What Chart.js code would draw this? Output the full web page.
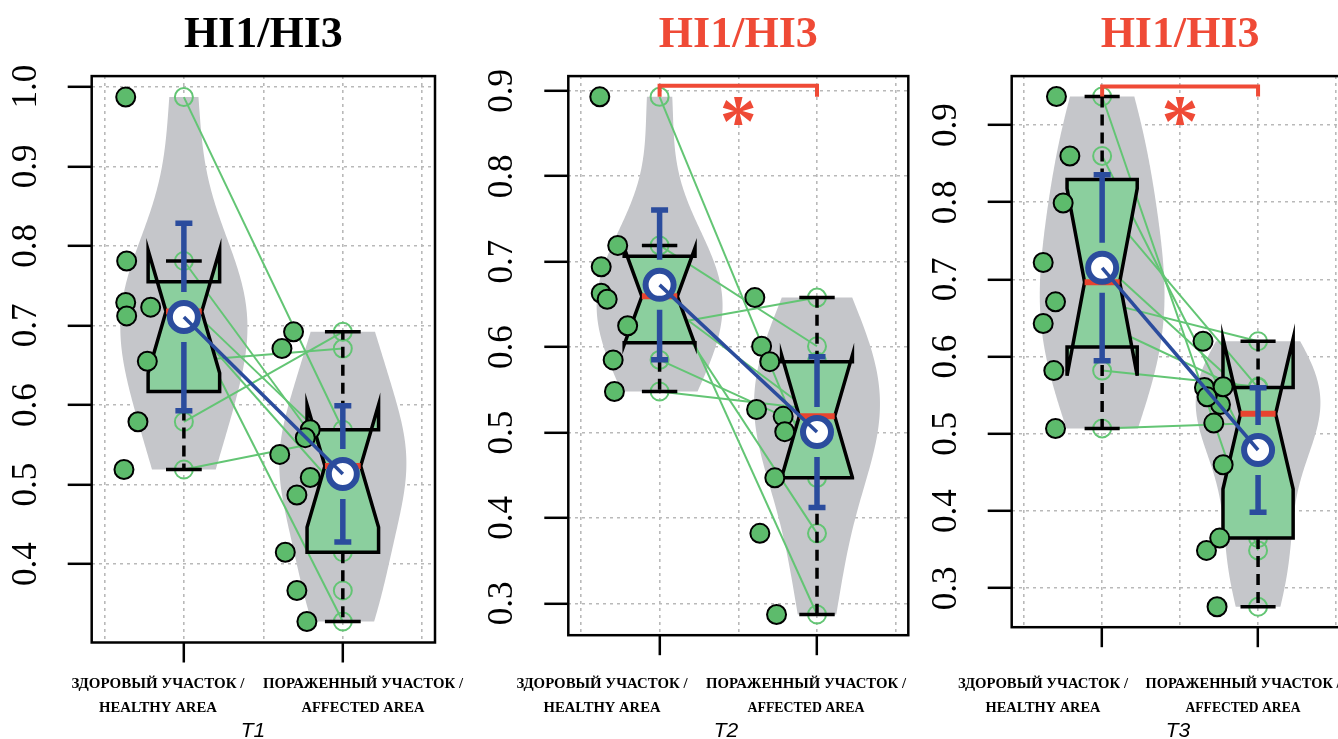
<!DOCTYPE html>
<html>
<head>
<meta charset="utf-8">
<title>HI1/HI3</title>
<script src="https://cdn.jsdelivr.net/npm/chart.js@4.4.1/dist/chart.umd.min.js"></script>
<style>
  html, body { margin: 0; padding: 0; background: #ffffff; width: 1338px; height: 739px; overflow: hidden; }
  .panel { position: absolute; top: 0; height: 739px; }
  .panel canvas { display: block; }
</style>
</head>
<body>
<div class="panel" style="left:0px;width:480px"><canvas id="c1" width="480" height="739"></canvas></div>
<div class="panel" style="left:460px;width:480px"><canvas id="c2" width="480" height="739"></canvas></div>
<div class="panel" style="left:920px;width:440px"><canvas id="c3" width="440" height="739"></canvas></div>
<script>
// ---------------- data: HI1/HI3 index, healthy vs affected skin ----------------
const indexName = 'HI1/HI3';
const sessions = ['T1', 'T2', 'T3'];
const categoryRu = ['ЗДОРОВЫЙ УЧАСТОК /', 'ПОРАЖЕННЫЙ УЧАСТОК /'];
const categoryEn = ['HEALTHY AREA', 'AFFECTED AREA'];

const yTicksT1 = [0.4, 0.5, 0.6, 0.7, 0.8, 0.9, 1.0];
const yTicksT2 = [0.3, 0.4, 0.5, 0.6, 0.7, 0.8, 0.9];
const yTicksT3 = [0.3, 0.4, 0.5, 0.6, 0.7, 0.8, 0.9];

// values are listed so that entry i of "healthy" is paired with entry i of "affected"
const healthyT1  = [0.987, 0.781, 0.729, 0.723, 0.712, 0.655, 0.579, 0.519];
const affectedT1 = [0.569, 0.509, 0.538, 0.328, 0.487, 0.671, 0.692, 0.559, 0.415, 0.367];
const healthyT2  = [0.893, 0.719, 0.694, 0.663, 0.656, 0.625, 0.585, 0.548];
const affectedT2 = [0.447, 0.601, 0.287, 0.382, 0.519, 0.658, 0.501, 0.527, 0.583];
const healthyT3  = [0.937, 0.860, 0.799, 0.722, 0.671, 0.643, 0.582, 0.507];
const affectedT3 = [0.349, 0.460, 0.560, 0.538, 0.620, 0.548, 0.561, 0.514, 0.365, 0.276];

// horizontal strip-chart jitter of the filled points (category units)
const healthyJitterT1  = [-0.366, -0.360, -0.366, -0.209, -0.360, -0.230, -0.289, -0.377];
const affectedJitterT1 = [-0.205, -0.205, -0.397, -0.226, -0.289, -0.383, -0.310, -0.236, -0.362, -0.289];
const healthyJitterT2  = [-0.380, -0.266, -0.371, -0.371, -0.333, -0.203, -0.295, -0.287];
const affectedJitterT2 = [-0.268, -0.352, -0.257, -0.363, -0.215, -0.395, -0.205, -0.384, -0.300];
const healthyJitterT3  = [-0.293, -0.207, -0.250, -0.378, -0.299, -0.378, -0.310, -0.299];
const affectedJitterT3 = [-0.331, -0.224, -0.344, -0.241, -0.353, -0.327, -0.224, -0.284, -0.246, -0.263];

// significance bracket between the two areas (null = not significant)
const significanceT1 = null;
const significanceT2 = '*';
const significanceT3 = '*';

// ---------------- styling ----------------
const COL = {
  violin: '#c5c6ca',
  boxFill: '#8bcf9e',
  point: '#5dbb6c',
  pairLine: '#63c574',
  blue: '#2b4c9d',
  median: '#e8442f',
  red: '#ef4a36',
  grid: '#b9b9b9'
};
const BOX_HALF = 0.225;      // half box width, category units
const VIOLIN_HALF = 0.4;     // max half width of a violin
const T975 = { 5: 2.570582, 6: 2.446912, 7: 2.364624, 8: 2.306004, 9: 2.262157, 10: 2.228139 };

// ---------------- statistics ----------------
function sorted(v) { return [...v].sort((a, b) => a - b); }
function fivenum(v) {
  const x = sorted(v), n = x.length;
  const n4 = Math.floor((n + 3) / 2) / 2;
  const d = [1, n4, (n + 1) / 2, n + 1 - n4, n];
  return d.map(di => 0.5 * (x[Math.floor(di) - 1] + x[Math.ceil(di) - 1]));
}
function boxStats(v) {
  const [, q1, med, q3] = fivenum(v);
  const iqr = q3 - q1;
  const lo = Math.min(...v.filter(a => a >= q1 - 1.5 * iqr));
  const hi = Math.max(...v.filter(a => a <= q3 + 1.5 * iqr));
  const nd = 1.58 * iqr / Math.sqrt(v.length);
  return { q1, med, q3, lo, hi, nLo: med - nd, nHi: med + nd };
}
function meanSd(v) {
  const n = v.length, m = v.reduce((s, a) => s + a, 0) / n;
  const sd = Math.sqrt(v.reduce((s, a) => s + (a - m) * (a - m), 0) / (n - 1));
  return { n, m, sd };
}
function meanCI(v) {
  const { n, m, sd } = meanSd(v);
  const half = T975[n - 1] * sd / Math.sqrt(n);
  return { mean: m, lo: m - half, hi: m + half };
}
// gaussian kernel density with normal-optimal bandwidth, on [min, max]
function violinOutline(v, steps) {
  const { n, sd } = meanSd(v);
  const h = sd * Math.pow(4 / (3 * n), 0.2);
  const x = sorted(v), a = x[0], b = x[n - 1];
  const out = [];
  for (let i = 0; i <= steps; i++) {
    const y = a + (b - a) * i / steps;
    let f = 0;
    for (const xi of x) { const z = (y - xi) / h; f += Math.exp(-0.5 * z * z); }
    out.push({ y, f });
  }
  const fmax = Math.max(...out.map(p => p.f));
  return out.map(p => ({ y: p.y, w: VIOLIN_HALF * p.f / fmax }));
}

// ---------------- panels ----------------
const panels = [
  { canvas: 'c1', left: 0,   session: sessions[0], titleColor: '#000000',
    healthy: healthyT1, affected: affectedT1, hJit: healthyJitterT1, aJit: affectedJitterT1,
    yTicks: yTicksT1, sig: significanceT1,
    box: { yWidth: 91.7, right: 45, bottom: 76.5 },
    labelX: [158, 363], labelW: [[173, 118], [200, 123]], sessionX: 253 },
  { canvas: 'c2', left: 460, session: sessions[1], titleColor: COL.red,
    healthy: healthyT2, affected: affectedT2, hJit: healthyJitterT2, aJit: affectedJitterT2,
    yTicks: yTicksT2, sig: significanceT2,
    box: { yWidth: 108.3, right: 31.7, bottom: 83.8 },
    labelX: [602, 806], labelW: [[171, 117], [200, 117]], sessionX: 726 },
  { canvas: 'c3', left: 920, session: sessions[2], titleColor: COL.red,
    healthy: healthyT3, affected: affectedT3, hJit: healthyJitterT3, aJit: affectedJitterT3,
    yTicks: yTicksT3, sig: significanceT3,
    box: { yWidth: 91.7, right: 8.3, bottom: 91.8 },
    labelX: [1043, 1243], labelW: [[170, 115], [195, 115]], sessionX: 1178 }
];

function buildPanel(p) {
  const groups = [p.healthy, p.affected];
  const all = groups.flat();
  const dmin = Math.min(...all), dmax = Math.max(...all);
  const ext = (dmax - dmin) * 0.04;
  const stats = groups.map(boxStats);
  const cis = groups.map(meanCI);
  const violins = groups.map(g => violinOutline(g, 160));

  const datasets = [];
  // paired observations
  const nPairs = Math.min(p.healthy.length, p.affected.length);
  for (let i = 0; i < nPairs; i++) {
    datasets.push({
      data: [{ x: 1, y: p.healthy[i] }, { x: 2, y: p.affected[i] }],
      showLine: true, borderColor: COL.pairLine, borderWidth: 2,
      pointRadius: 0, order: 6
    });
  }
  // observations on the category axis
  datasets.push({
    data: p.healthy.map(y => ({ x: 1, y })).concat(p.affected.map(y => ({ x: 2, y }))),
    pointRadius: 9, pointBorderWidth: 2, pointBorderColor: COL.pairLine,
    pointBackgroundColor: 'rgba(0,0,0,0)', order: 5
  });
  // jittered strip chart
  const stripIndex = datasets.length;
  datasets.push({
    data: p.healthy.map((y, i) => ({ x: 1 + p.hJit[i], y }))
      .concat(p.affected.map((y, i) => ({ x: 2 + p.aJit[i], y }))),
    pointRadius: 9.5, pointBorderWidth: 2, pointBorderColor: '#000000',
    pointBackgroundColor: COL.point, order: 3
  });
  // line joining the group means
  const meanIndex = datasets.length;
  datasets.push({
    data: [{ x: 1, y: cis[0].mean }, { x: 2, y: cis[1].mean }],
    showLine: true, borderColor: COL.blue, borderWidth: 3.5, pointRadius: 0, order: 1
  });

  const px = (chart, v) => chart.scales.x.getPixelForValue(v);
  const py = (chart, v) => chart.scales.y.getPixelForValue(v);

  const drawPlugin = {
    id: 'violinBox',
    beforeDatasetsDraw(chart) {
      const ctx = chart.ctx;
      ctx.save();
      ctx.beginPath();
      ctx.rect(chart.chartArea.left, chart.chartArea.top, chart.chartArea.width, chart.chartArea.height);
      ctx.clip();
      violins.forEach((outline, g) => {
        const cx = g + 1;
        ctx.beginPath();
        outline.forEach((pt, i) => {
          const X = px(chart, cx + pt.w), Y = py(chart, pt.y);
          if (i === 0) ctx.moveTo(X, Y); else ctx.lineTo(X, Y);
        });
        for (let i = outline.length - 1; i >= 0; i--) {
          ctx.lineTo(px(chart, cx - outline[i].w), py(chart, outline[i].y));
        }
        ctx.closePath();
        ctx.fillStyle = COL.violin;
        ctx.fill();
      });
      ctx.restore();
    },
    beforeDatasetDraw(chart, args) {
      const ctx = chart.ctx;
      if (args.index === stripIndex) {
        // notched box plots
        stats.forEach((s, g) => {
          const cx = g + 1, hw = BOX_HALF, nw = BOX_HALF / 2;
          const poly = [[cx - hw, s.q1], [cx - hw, s.nLo], [cx - nw, s.med], [cx - hw, s.nHi], [cx - hw, s.q3],
                        [cx + hw, s.q3], [cx + hw, s.nHi], [cx + nw, s.med], [cx + hw, s.nLo], [cx + hw, s.q1]];
          ctx.save();
          ctx.beginPath();
          poly.forEach(([x, y], i) => { const X = px(chart, x), Y = py(chart, y); i ? ctx.lineTo(X, Y) : ctx.moveTo(X, Y); });
          ctx.closePath();
          ctx.fillStyle = COL.boxFill;
          ctx.fill();
          ctx.lineWidth = 3.5;
          ctx.lineJoin = 'miter';
          ctx.strokeStyle = '#000000';
          ctx.stroke();
          // whiskers
          const X = px(chart, cx);
          ctx.setLineDash([11, 7]);
          ctx.lineWidth = 3.5;
          ctx.beginPath();
          ctx.moveTo(X, py(chart, s.q3)); ctx.lineTo(X, py(chart, s.hi));
          ctx.moveTo(X, py(chart, s.q1)); ctx.lineTo(X, py(chart, s.lo));
          ctx.stroke();
          ctx.setLineDash([]);
          // staples
          ctx.beginPath();
          ctx.moveTo(px(chart, cx - hw / 2), py(chart, s.hi)); ctx.lineTo(px(chart, cx + hw / 2), py(chart, s.hi));
          ctx.moveTo(px(chart, cx - hw / 2), py(chart, s.lo)); ctx.lineTo(px(chart, cx + hw / 2), py(chart, s.lo));
          ctx.stroke();
          // median
          ctx.beginPath();
          ctx.lineWidth = 6;
          ctx.strokeStyle = COL.median;
          ctx.moveTo(px(chart, cx - nw), py(chart, s.med)); ctx.lineTo(px(chart, cx + nw), py(chart, s.med));
          ctx.stroke();
          ctx.restore();
        });
      }
      if (args.index === meanIndex) {
        // mean with 95% confidence interval
        cis.forEach((c, g) => {
          const X = px(chart, g + 1), Ym = py(chart, c.mean);
          const Yhi = py(chart, c.hi), Ylo = py(chart, c.lo);
          const gap = 25;
          ctx.save();
          ctx.strokeStyle = COL.blue;
          ctx.lineWidth = 5.5;
          ctx.lineCap = 'butt';
          ctx.beginPath();
          ctx.moveTo(X, Ym - gap); ctx.lineTo(X, Yhi);
          ctx.moveTo(X, Ym + gap); ctx.lineTo(X, Ylo);
          ctx.moveTo(X - 8.5, Yhi); ctx.lineTo(X + 8.5, Yhi);
          ctx.moveTo(X - 8.5, Ylo); ctx.lineTo(X + 8.5, Ylo);
          ctx.stroke();
          ctx.beginPath();
          ctx.arc(X, Ym, 14, 0, Math.PI * 2);
          ctx.fillStyle = '#ffffff';
          ctx.fill();
          ctx.lineWidth = 6;
          ctx.stroke();
          ctx.restore();
        });
      }
    },
    afterDatasetsDraw(chart) {
      const ctx = chart.ctx, a = chart.chartArea;
      ctx.save();
      if (p.sig) {
        const top = Math.max(...p.healthy, ...p.affected);
        const yb = py(chart, top + 0.013), ye = py(chart, top);
        ctx.strokeStyle = COL.red;
        ctx.lineWidth = 4;
        ctx.beginPath();
        ctx.moveTo(px(chart, 1), ye); ctx.lineTo(px(chart, 1), yb);
        ctx.lineTo(px(chart, 2), yb); ctx.lineTo(px(chart, 2), ye);
        ctx.stroke();
        ctx.fillStyle = COL.red;
        ctx.font = 'bold 74px "Liberation Serif"';
        ctx.textAlign = 'center';
        ctx.textBaseline = 'alphabetic';
        const m = ctx.measureText(p.sig);
        const cy = yb + 25;
        const base = cy + (m.actualBoundingBoxAscent - m.actualBoundingBoxDescent) / 2;
        ctx.fillText(p.sig, px(chart, 1.5), base);
      }
      ctx.strokeStyle = '#000000';
      ctx.lineWidth = 2.5;
      ctx.strokeRect(a.left, a.top, a.width, a.height);
      ctx.restore();
    },
    afterDraw(chart) {
      const ctx = chart.ctx, a = chart.chartArea;
      ctx.save();
      ctx.fillStyle = '#000000';
      // y tick labels, written along the axis
      ctx.font = '35px "Liberation Serif"';
      ctx.textAlign = 'center';
      ctx.textBaseline = 'middle';
      p.yTicks.forEach(v => {
        ctx.save();
        ctx.translate(a.left - 65, py(chart, v));
        ctx.rotate(-Math.PI / 2);
        ctx.fillText(v.toFixed(1), 0, 0);
        ctx.restore();
      });
      // title
      ctx.font = 'bold 44px "Liberation Serif"';
      ctx.textBaseline = 'alphabetic';
      ctx.fillStyle = p.titleColor;
      ctx.fillText(indexName, (a.left + a.right) / 2, 47);
      // category labels
      ctx.fillStyle = '#000000';
      ctx.font = 'bold 15px "Liberation Serif"';
      for (let g = 0; g < 2; g++) {
        const x = p.labelX[g] - p.left;
        ctx.fillText(categoryRu[g], x, 688, p.labelW[g][0]);
        ctx.fillText(categoryEn[g], x, 712, p.labelW[g][1]);
      }
      // session
      ctx.font = 'italic 21px "Liberation Sans"';
      ctx.fillText(p.session, p.sessionX - p.left, 737);
      ctx.restore();
    }
  };

  new Chart(document.getElementById(p.canvas), {
    type: 'scatter',
    data: { datasets },
    plugins: [drawPlugin],
    options: {
      responsive: false,
      animation: false,
      events: [],
      layout: { padding: { top: 76.1, right: p.box.right, bottom: p.box.bottom, left: 0 } },
      plugins: { legend: { display: false }, tooltip: { enabled: false }, title: { display: false } },
      scales: {
        x: {
          type: 'linear', min: 0.42, max: 2.58,
          afterBuildTicks(scale) { scale.ticks = [0.5, 1, 1.5, 2, 2.5].map(value => ({ value })); },
          afterFit(scale) { scale.height = 20; },
          ticks: { display: false },
          grid: {
            color: COL.grid, lineWidth: 1.6, drawTicks: true, tickLength: 20, tickWidth: 2.5,
            tickColor: ctx => (ctx.tick && Number.isInteger(ctx.tick.value)) ? '#000000' : 'rgba(0,0,0,0)',
            tickBorderDash: []
          },
          border: { display: false, dash: [3, 4] }
        },
        y: {
          type: 'linear', min: dmin - ext, max: dmax + ext,
          afterBuildTicks(scale) { scale.ticks = p.yTicks.map(value => ({ value })); },
          afterFit(scale) { scale.width = p.box.yWidth; },
          ticks: { display: false },
          grid: {
            color: COL.grid, lineWidth: 1.6, drawTicks: true, tickLength: 24, tickWidth: 2.5,
            tickColor: '#000000', tickBorderDash: []
          },
          border: { display: false, dash: [3, 4] }
        }
      }
    }
  });
}

panels.forEach(buildPanel);
</script>
</body>
</html>
